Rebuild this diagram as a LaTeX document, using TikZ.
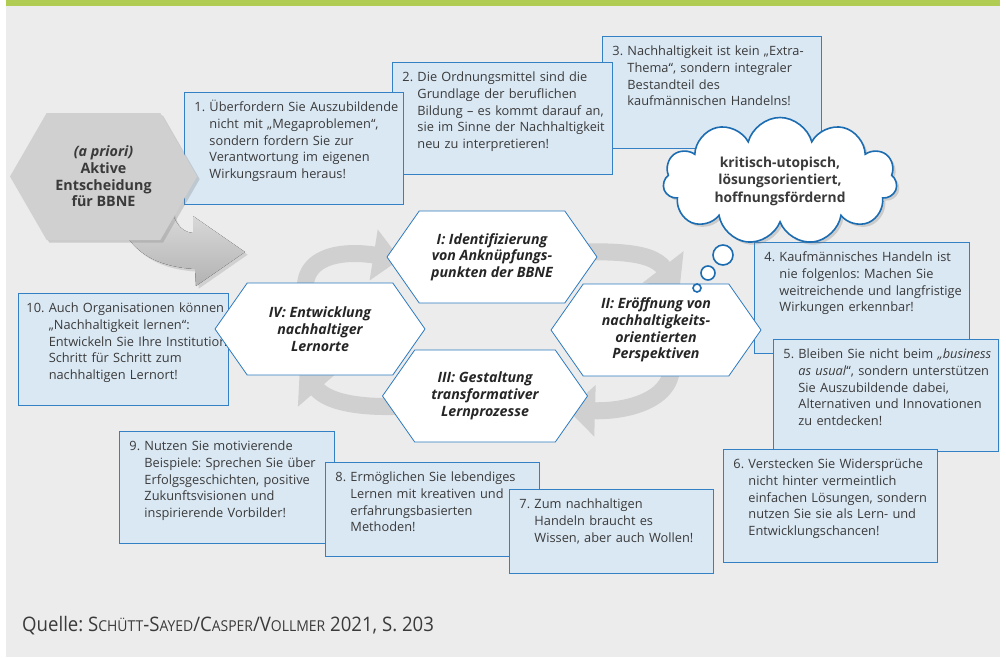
\documentclass[tikz,border=0pt]{standalone}
\usepackage{fontspec}
\setmainfont{Open Sans}
\usepackage{graphicx}
\usepackage{tikz}
\usetikzlibrary{shapes}
\usetikzlibrary{shapes.symbols}
\usetikzlibrary{arrows.meta}
\usetikzlibrary{shadows}
\usetikzlibrary{backgrounds}
\frenchspacing
\definecolor{hintergrund}{RGB}{236,236,236}
\definecolor{balken}{RGB}{176,204,82}
\definecolor{kastenblau}{RGB}{218,232,244}
\definecolor{kastenrand}{RGB}{52,128,196}
\definecolor{hexrand}{RGB}{45,122,192}
\definecolor{wolkenrand}{RGB}{28,108,178}
\definecolor{textgrau}{RGB}{58,58,58}
\definecolor{pfeilgrau}{RGB}{208,208,208}
\definecolor{apriorigrau}{RGB}{208,208,208}
\newcommand \punkt [2] {\begin{tabular}[t]{@{}l@{\ }l@{}}#1&\begin{tabular}[t]{@{}l@{}}#2\end{tabular}\end{tabular}}
\newcommand \kap [1] {{\fontsize{15}{15}\selectfont #1}}
\tikzstyle{kasten}=[rectangle,draw=kastenrand,fill=kastenblau,line width=0.9pt,anchor=north west,inner xsep=10pt,inner ysep=7pt,align=left,text=textgrau,font=\fontsize{12.8}{16.8}\selectfont,text height=12pt]
\tikzstyle{phase}=[signal,signal to=east and west,signal pointer angle=110,draw=hexrand,fill=white,line width=0.8pt,minimum width=210pt,minimum height=92pt,inner sep=0pt,align=center,text=black!85,font=\fontsize{14.2}{16.7}\selectfont\bfseries\itshape]
\tikzstyle{kreispfeil}=[draw=pfeilgrau,line width=17pt,-{Triangle[length=27pt,width=50pt]}]
\tikzstyle{blase}=[circle,draw=wolkenrand,fill=white,line width=1.6pt,inner sep=0pt]
\begin{document}
\begin{tikzpicture}[x=1pt,y=-1pt]
    \useasboundingbox (0,0) rectangle (1006,657);
    \node[kasten,text width=199pt,text depth=86pt] (p3) at (602,36) {\punkt{3.}{Nachhaltigkeit ist kein „Extra-\\Thema“, sondern integraler\\Bestandteil des\\kaufmännischen Handelns!}};
    \node[kasten,text width=200pt,text depth=86pt] (p2) at (392,62) {\punkt{2.}{Die Ordnungsmittel sind die\\Grundlage der beruflichen\\Bildung – es kommt darauf an,\\sie im Sinne der Nachhaltigkeit\\neu zu interpretieren!}};
    \node[kasten,text width=199pt,text depth=86pt] (p1) at (184,92) {\punkt{1.}{Überfordern Sie Auszubildende\\nicht mit „Megaproblemen“,\\sondern fordern Sie zur\\Verantwortung im eigenen\\Wirkungsraum heraus!}};
    \node[kasten,text width=195pt,text depth=85pt] (p4) at (754,242) {\punkt{4.}{Kaufmännisches Handeln ist\\nie folgenlos: Machen Sie\\weitreichende und langfristige\\Wirkungen erkennbar!}};
    \node[kasten,text width=205pt,text depth=86pt] (p5) at (773,339) {\punkt{5.}{Bleiben Sie nicht beim \textit{„business}\\\textit{as usual}“, sondern unterstützen\\Sie Auszubildende dabei,\\Alternativen und Innovationen\\zu entdecken!}};
    \node[kasten,text width=194pt,text depth=87pt] (p6) at (723,449) {\punkt{6.}{Verstecken Sie Widersprüche\\nicht hinter vermeintlich\\einfachen Lösungen, sondern\\nutzen Sie sie als Lern- und\\Entwicklungschancen!}};
    \node[kasten,text width=195pt,text depth=86pt] (p9) at (119,431) {\punkt{9.}{Nutzen Sie motivierende\\Beispiele: Sprechen Sie über\\Erfolgsgeschichten, positive\\Zukunftsvisionen und\\inspirierende Vorbilder!}};
    \node[kasten,text width=194pt,text depth=68pt] (p8) at (325,462) {\punkt{8.}{Ermöglichen Sie lebendiges\\Lernen mit kreativen und\\erfahrungsbasierten\\Methoden!}};
    \node[kasten,text width=184pt,text depth=58pt] (p7) at (509,489) {\punkt{7.}{Zum nachhaltigen\\Handeln braucht es\\Wissen, aber auch Wollen!}};
    \node[kasten,text width=194pt,text depth=86pt,inner xsep=8pt] (p10) at (18,293) {\punkt{10.}{Auch Organisationen können\\„Nachhaltigkeit lernen“:\\Entwickeln Sie Ihre Institution\\Schritt für Schritt zum\\nachhaltigen Lernort!}};
    \node[signal,signal to=east and west,signal pointer angle=120,fill=apriorigrau,minimum width=187pt,minimum height=127pt,inner sep=0pt,align=center,text=textgrau,font=\fontsize{14.3}{16.7}\selectfont\bfseries,drop shadow={opacity=.3}] (apriori) at (103.5,176.5) {\textit{(a priori)}\\Aktive\\Entscheidung\\für BBNE};
    \node[phase] (i) at (492,257) {I: Identifizierung\\von Anknüpfungs-\\punkten der BBNE};
    \node[phase] (ii) at (656,330) {II: Eröffnung von\\nachhaltigkeits-\\orientierten\\Perspektiven};
    \node[phase,minimum width=205pt] (iii) at (485,396) {III: Gestaltung\\transformativer\\Lernprozesse};
    \node[phase] (iv) at (320,329) {IV: Entwicklung\\nachhaltiger\\Lernorte};
    \node[cloud,cloud puffs=11,cloud ignores aspect,minimum width=234pt,minimum height=127pt,draw=wolkenrand,fill=white,line width=1.6pt,inner sep=1pt,align=center,text=textgrau,font=\fontsize{13.8}{17.5}\selectfont\bfseries,drop shadow={opacity=.3}] (wolke) at (780,181) {kritisch-utopisch,\\lösungsorientiert,\\hoffnungsfördernd};
    \node[blase,minimum size=20pt] (b1) at (723,255) {};
    \node[blase,minimum size=14pt] (b2) at (708,273) {};
    \node[blase,minimum size=8pt] (b3) at (697,288) {};
    \node[anchor=base west,text=textgrau,inner sep=0pt] (quelle) at (22,631) {\scalebox{0.93}[1]{\fontsize{20}{20}\selectfont Quelle: S\kap{CHÜTT}-S\kap{AYED}/C\kap{ASPER}/V\kap{OLLMER} 2021, S. 203}};
    \begin{scope}[on background layer]
      \fill[hintergrund] (6,6) rectangle (1000,657);
      \fill[balken] (6,0) rectangle (1000,6);
      \fill[top color=black!12,bottom color=black!30,drop shadow={opacity=.25}] (128,200) -- (128,238) .. controls (140,255) and (160,267) .. (195,269) -- (196,286) -- (245,252) -- (193,216) -- (193,233) .. controls (180,232) and (172,220) .. (170,200) -- cycle;
      \draw[kreispfeil,shorten >=-14pt] (iv.center) .. controls (280,262) and (330,248) .. (i.west);
      \draw[kreispfeil,shorten >=-6pt] (i.center) .. controls (610,248) and (650,250) .. ([xshift=20pt]ii.north);
      \draw[kreispfeil] (ii.center) .. controls (700,390) and (640,412) .. ([xshift=-20pt,yshift=-14pt]iii.east);
      \draw[kreispfeil,shorten >=-8pt] (iii.center) .. controls (400,412) and (335,410) .. ([xshift=-15pt]iv.south);
    \end{scope}
\end{tikzpicture}
\end{document}
